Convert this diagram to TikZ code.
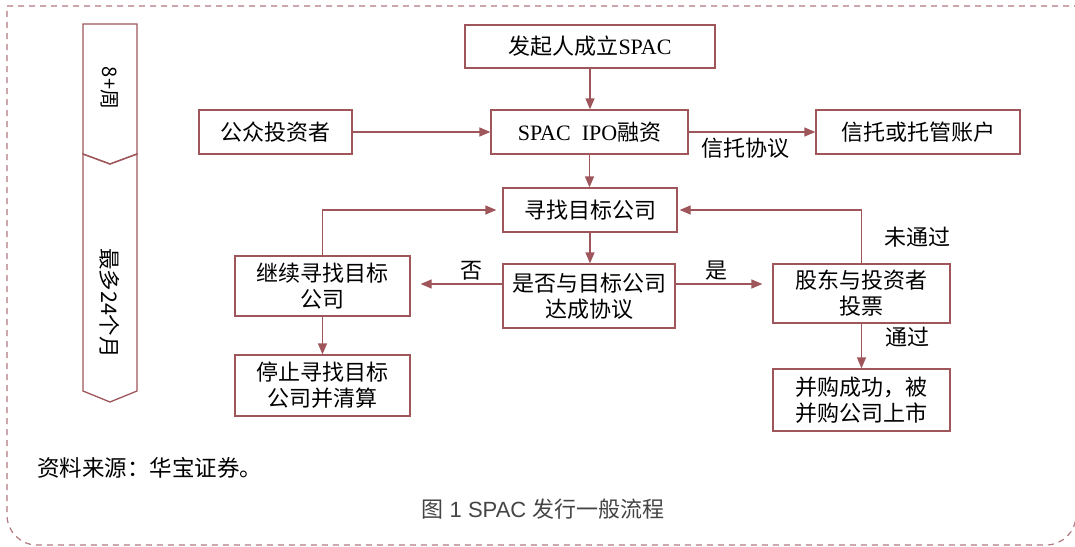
\documentclass[tikz,border=0pt]{standalone}
\usepackage{fontspec}
\setmainfont{Liberation Serif}
\newfontfamily\cjk{Noto Sans CJK SC}
\newfontfamily\capfont{Liberation Sans}
\usetikzlibrary{arrows.meta,calc}
\definecolor{bc}{HTML}{9E565B}
\definecolor{fc}{HTML}{B07A80}
\definecolor{capc}{HTML}{444444}
\tikzset{
  box/.style={draw=bc, line width=1.3pt, fill=white, inner sep=0pt, align=center,
     font=\fontsize{22}{26}\selectfont\cjk, text=black},
  arr/.style={draw=bc, line width=1.3pt, -{Triangle[length=11pt,width=9pt]}},
  lbl/.style={font=\fontsize{22}{26}\selectfont\cjk, text=black, inner sep=0pt},
  chev/.style={draw=bc, line width=1.3pt},
}
\begin{document}
\begin{tikzpicture}[x=1pt,y=-1pt]
\useasboundingbox (0,0) rectangle (1075,546);
% frame
\draw[fc, line width=1.2pt, dash pattern=on 6pt off 5pt]
  (1080,6) -- (7,6) -- (7,515) arc[start angle=180, end angle=90, radius=30]
  -- (1046,545) arc[start angle=90, end angle=0, radius=30] -- (1076,6);

% timeline chevrons
\draw[chev] (83,24) -- (137,24) -- (137,154) -- (110,164) -- (83,154) -- cycle;
\draw[chev] (83,154) -- (110,164) -- (137,154) -- (137,391) -- (110,402) -- (83,391) -- cycle;
\node[lbl, rotate=-90, font=\fontsize{20}{24}\selectfont\cjk] (w8) at (110,88) {8+周};
\node[lbl, rotate=-90, font=\fontsize{21.5}{24}\selectfont\cjk] (m24) at (110,303) {最多24个月};

% boxes
\node[box, minimum width=250pt, minimum height=43pt] (b1) at (590,46.5) {发起人成立{\rmfamily SPAC}};
\node[box, minimum width=197pt, minimum height=44pt] (b2) at (589.5,132) {{\rmfamily SPAC\hspace{0.5em}IPO}融资};
\node[box, minimum width=153pt, minimum height=44pt] (b3) at (275.5,132) {公众投资者};
\node[box, minimum width=204pt, minimum height=44pt] (b4) at (918,132) {信托或托管账户};
\node[box, minimum width=174pt, minimum height=44pt] (b5) at (590,210) {寻找目标公司};
\node[box, minimum width=172pt, minimum height=64pt] (b6) at (589,296) {是否与目标公司\\达成协议};
\node[box, minimum width=175pt, minimum height=60pt] (b7) at (322.5,286) {继续寻找目标\\公司};
\node[box, minimum width=175pt, minimum height=61pt] (b8) at (322.5,385.5) {停止寻找目标\\公司并清算};
\node[box, minimum width=177pt, minimum height=59pt] (b9) at (861.5,293.5) {股东与投资者\\投票};
\node[box, minimum width=177pt, minimum height=62pt] (b10) at (861.5,400) {并购成功，被\\并购公司上市};

% connectors
\draw[arr] (b1.south) -- (b1.south |- b2.north);
\draw[arr] (b3.east) -- (b2.west);
\draw[arr] (b2.east) -- (b4.west);
\draw[arr] (b2.south) -- (b2.south |- b5.north);
\draw[arr] (b5.south) -- (b5.south |- b6.north);
\coordinate (pw) at ([yshift=12pt]b6.west);
\coordinate (pe) at ([yshift=12pt]b6.east);
\draw[arr, shorten >=10pt] (pw) -- (pw -| b7.east);
\draw[arr, shorten >=10pt] (pe) -- (pe -| b9.west);
\draw[arr, shorten >=6pt] (b7.north) |- (b5.west);
\draw[arr, shorten >=2pt] (b9.north) |- (b5.east);
\draw[arr] (b7.south) -- (b8.north);
\draw[arr] (b9.south) -- (b10.north);

% labels
\node[lbl] (l1) at (745,148) {信托协议};
\node[lbl] (l2) at (471,271) {否};
\node[lbl] (l3) at (716,271) {是};
\node[lbl] (l4) at (917,237) {未通过};
\node[lbl] (l5) at (907,337) {通过};

% source and caption
\node[lbl, anchor=west, font=\fontsize{22.5}{26}\selectfont\cjk, text=black] (src) at (37,468) {资料来源：华宝证券。};
\node[inner sep=0pt, text=capc, font=\fontsize{22}{26}\selectfont\capfont] (cap) at (543,509) {{\cjk 图} 1 SPAC {\cjk 发行一般流程}};
\end{tikzpicture}
\end{document}
